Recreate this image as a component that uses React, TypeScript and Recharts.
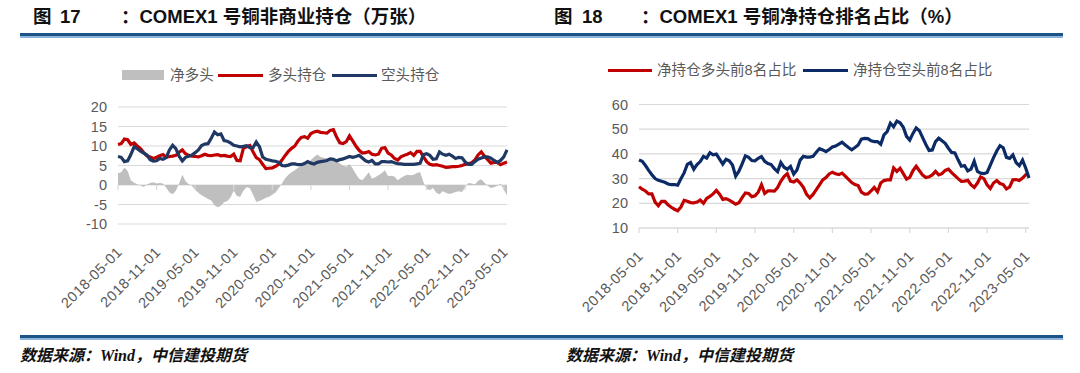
import React from 'react';
import { ComposedChart, Line, Area, XAxis, YAxis, CartesianGrid, ReferenceLine } from 'recharts';

// Semi-monthly sampling index (months since 2018-05-01)
const monthIdx: number[] = Array.from({ length: 122 }, (_, i) => i / 2);

const xTicks = [0, 6, 12, 18, 24, 30, 36, 42, 48, 54, 60];
const xTickLabels = [
  '2018-05-01', '2018-11-01', '2019-05-01', '2019-11-01', '2020-05-01', '2020-11-01',
  '2021-05-01', '2021-11-01', '2022-05-01', '2022-11-01', '2023-05-01',
];

const leftYTicks = [-10, -5, 0, 5, 10, 15, 20];
const rightYTicks = [10, 20, 30, 40, 50, 60];

// Fig 17: COMEX copper non-commercial positions (10k contracts)
const longPos = [
  10.4, 10.6, 11.8, 11.6, 10.4, 10.8, 10.0, 9.3, 8.3, 7.5,
  7.2, 6.8, 7.1, 7.5, 7.8, 7.1, 7.3, 7.4, 7.6, 8.4,
  9.0, 8.0, 7.6, 7.4, 7.3, 7.2, 7.5, 7.9, 7.6, 7.5,
  7.7, 7.8, 7.5, 7.6, 7.4, 7.3, 7.9, 6.3, 6.2, 9.4,
  9.8, 10.1, 8.5, 7.0, 6.5, 5.3, 4.2, 4.3, 4.4, 4.8,
  5.3, 6.4, 7.6, 8.6, 9.4, 10.0, 11.3, 12.2, 12.4, 12.0,
  13.2, 13.6, 13.8, 13.5, 13.4, 13.3, 14.0, 14.2, 12.3, 10.8,
  10.6, 11.1, 12.6, 11.3, 10.0, 8.9, 8.2, 8.3, 8.6, 7.9,
  7.7, 7.9, 9.4, 9.6, 8.2, 7.7, 6.8, 6.4, 7.2, 7.6,
  7.9, 8.3, 7.6, 8.6, 8.6, 7.3, 6.0, 5.3, 5.1, 5.2,
  5.0, 4.8, 4.5, 4.6, 4.7, 4.7, 4.8, 5.0, 5.3, 5.5,
  5.7, 6.4, 7.7, 8.5, 7.4, 6.5, 5.6, 5.8, 5.8, 5.2,
  5.6, 5.9,
];
const shortPos = [
  7.3, 7.1, 6.0, 6.2, 7.8, 9.8, 9.3, 8.7, 8.2, 7.7,
  6.5, 6.1, 6.2, 6.8, 6.6, 7.0, 9.0, 10.2, 9.3, 7.4,
  6.2, 7.1, 7.4, 7.7, 8.3, 9.0, 10.1, 10.5, 10.6, 12.0,
  13.6, 12.9, 13.1, 11.4, 11.2, 10.8, 10.2, 10.0, 9.8, 9.9,
  10.1, 9.6, 9.6, 11.0, 9.8, 7.2, 6.6, 6.4, 6.2, 6.1,
  5.8, 5.0, 4.9, 5.1, 5.4, 5.4, 5.2, 5.2, 5.5, 6.0,
  5.6, 5.4, 5.8, 6.0, 6.1, 6.3, 6.7, 6.6, 6.2, 6.5,
  6.7, 7.0, 7.3, 7.1, 7.3, 7.6, 6.9, 6.2, 5.9, 6.3,
  5.4, 5.4, 6.0, 6.0, 5.9, 6.0, 5.7, 5.5, 5.4, 5.3,
  5.3, 5.3, 5.3, 5.4, 5.6, 7.8, 8.0, 7.6, 6.6, 6.7,
  8.5, 7.9, 7.6, 7.9, 7.4, 6.8, 7.1, 7.0, 5.9, 5.3,
  5.3, 6.0, 6.6, 6.9, 7.2, 7.2, 6.9, 6.3, 5.8, 6.3,
  7.2, 9.0,
];
const netLong = [
  3.0, 3.3, 4.5, 3.6, 1.2, 0.6, 0.2, -0.1, -0.5, 0.1,
  0.5, 0.7, 0.4, 0.5, 0.4, -0.7, -1.9, -2.4, -1.5, 0.4,
  2.6, 1.0, 0.2, -0.2, -1.3, -2.0, -2.6, -3.1, -3.6, -4.0,
  -5.2, -5.7, -5.3, -4.4, -4.1, -3.2, -1.5, -2.8, -3.0, -1.5,
  -0.6, -0.8, -2.5, -4.3, -4.1, -3.7, -3.3, -3.0, -2.5, -1.9,
  -0.8, 0.4, 1.7, 2.6, 3.3, 3.8, 4.4, 4.9, 5.2, 5.7,
  6.4, 7.2, 7.8, 7.2, 7.0, 6.8, 6.9, 7.0, 6.2, 5.5,
  5.0, 4.7, 5.4, 4.2, 2.8, 1.6, 1.2, 2.2, 3.3, 1.6,
  2.0, 2.5, 3.0, 3.8, 2.3, 2.4, 2.2, 1.2, 1.8, 2.3,
  2.6, 2.5, 2.6, 3.1, 3.3, 0.8, -1.0, -1.3, -0.8, -2.0,
  -2.4, -1.6, -2.0, -2.3, -2.1, -1.8, -1.6, -1.8, -0.6, 0.5,
  0.4, 0.1, 1.1, 1.5, 0.6, -0.2, -0.8, -0.6, -0.2, 0.4,
  -1.2, -2.6,
];

// Fig 18: share of top-8 traders in net positions (%)
const top8Long = [
  26.7, 25.7, 25.0, 23.8, 23.8, 20.5, 19.0, 20.8, 20.8, 19.4,
  18.4, 17.6, 17.0, 18.5, 21.2, 20.8, 20.3, 20.2, 20.5, 21.3,
  20.0, 22.0, 22.8, 23.8, 25.2, 23.7, 21.6, 21.9, 21.3, 20.5,
  19.6, 20.2, 22.3, 24.2, 24.0, 22.7, 23.0, 24.5, 27.5, 24.0,
  25.0, 25.0, 24.9, 26.4, 28.9, 30.8, 32.0, 29.0, 28.6, 29.5,
  28.2, 26.5, 23.6, 22.2, 23.6, 25.5, 27.5, 29.5, 30.4, 31.9,
  32.6, 32.0, 31.6, 32.2, 31.0, 29.7, 28.4, 27.6, 27.2, 24.5,
  23.7, 23.8, 25.0, 26.4, 24.7, 28.2, 29.2, 29.5, 29.5, 34.3,
  32.9, 34.2, 32.0, 29.8, 30.5, 33.2, 35.0, 33.2, 31.4, 30.4,
  30.7, 31.5, 32.9, 31.5, 32.0, 33.3, 33.8, 32.4, 31.2, 30.0,
  28.9, 29.0, 29.3, 27.5, 26.4, 28.2, 30.7, 30.0, 27.5, 26.0,
  28.2, 29.2, 28.0, 27.6, 25.8, 26.6, 29.5, 29.6, 29.2, 30.2,
  31.6, 31.8,
];
const top8Short = [
  37.5, 37.0, 35.3, 33.3, 31.6, 30.0, 29.3, 28.9, 28.5, 27.8,
  27.6, 27.6, 27.3, 29.9, 32.3, 35.8, 36.5, 33.8, 35.7, 36.9,
  39.0, 38.3, 40.5, 39.6, 39.9, 37.9, 35.9, 37.8, 37.2, 35.5,
  31.0, 33.0, 36.0, 39.2, 38.6, 37.3, 37.2, 38.2, 38.9, 37.0,
  36.1, 35.7, 34.0, 32.8, 36.5, 34.6, 33.8, 34.9, 31.8, 33.5,
  37.5, 39.0, 38.7, 38.7, 39.0, 40.7, 42.1, 41.6, 40.9, 41.8,
  42.8, 43.2, 44.0, 44.7, 43.6, 42.6, 41.7, 42.6, 43.6, 46.0,
  46.3, 46.2, 45.3, 45.0, 45.0, 43.9, 47.7, 49.0, 52.4, 51.0,
  53.3, 52.6, 50.8, 47.1, 45.6, 48.3, 50.5, 49.4, 46.6, 43.8,
  41.4, 41.6, 45.0, 46.4, 45.3, 44.3, 42.3, 40.6, 40.4, 37.6,
  35.0, 35.3, 33.1, 33.8, 37.0, 32.9, 32.2, 32.0, 32.5, 35.5,
  38.5, 41.2, 43.3, 42.5, 38.6, 38.2, 39.6, 36.5, 35.2, 37.5,
  34.2, 30.2,
];

const leftData = monthIdx.map((m, i) => ({ m, net: netLong[i], long: longPos[i], short: shortPos[i] }));
const rightData = monthIdx.map((m, i) => ({ m, long8: top8Long[i], short8: top8Short[i] }));

const GREY_TXT = '#595959';
const GRID = '#d9d9d9';
const LATIN = '"Liberation Sans", Arial, "Noto Sans CJK SC", sans-serif';
const LINE_W = 3.2;

const RotTick = (props: any) => {
  const { x, y, payload, dx0, dy0 } = props;
  const idx = xTicks.indexOf(payload.value);
  const label = idx >= 0 ? xTickLabels[idx] : '';
  const ax = x + dx0;
  const ay = y + dy0;
  return (
    <text
      x={ax}
      y={ay}
      textAnchor="end"
      transform={`rotate(-45, ${ax}, ${ay})`}
      fill={GREY_TXT}
      fontSize={14.5}
      letterSpacing={0.5}
      fontFamily={LATIN}
    >
      {label}
    </text>
  );
};

const abs = (left: number, top: number, extra: React.CSSProperties = {}): React.CSSProperties => ({
  position: 'absolute',
  left,
  top,
  ...extra,
});

const titleStyle: React.CSSProperties = {
  fontFamily: LATIN,
  fontWeight: 'bold',
  fontSize: 18.5,
  lineHeight: '24px',
  color: '#111',
  whiteSpace: 'nowrap',
};

const legendText: React.CSSProperties = {
  fontFamily: LATIN,
  fontSize: 14.6,
  lineHeight: '18px',
  color: GREY_TXT,
  whiteSpace: 'nowrap',
};

const footStyle: React.CSSProperties = {
  fontFamily: '"Liberation Serif", "Noto Sans CJK SC", serif',
  fontWeight: 'bold',
  fontStyle: 'italic',
  fontSize: 16,
  lineHeight: '20px',
  color: '#111',
  whiteSpace: 'nowrap',
};

const Rule = ({ top }: { top: number }) => (
  <>
    <div style={abs(20, top, { width: 1043, height: 3, background: '#1d5487' })} />
    <div style={abs(20, top + 3, { width: 1043, height: 1.5, background: '#8fb4dc' })} />
  </>
);

export default function App() {
  return (
    <div style={{ position: 'absolute', left: 0, top: 0, width: 1080, height: 373, background: '#fff', overflow: 'hidden' }}>
      {/* titles */}
      <div style={abs(33, 5, titleStyle)}>图</div>
      <div style={abs(60, 5, titleStyle)}>17</div>
      <div style={abs(121, 5, titleStyle)}>：COMEX1 号铜非商业持仓（万张）</div>
      <div style={abs(554, 5, titleStyle)}>图</div>
      <div style={abs(582, 5, titleStyle)}>18</div>
      <div style={abs(641, 5, titleStyle)}>：COMEX1 号铜净持仓排名占比（%）</div>
      <Rule top={33} />

      {/* left legend */}
      <div style={abs(122, 70, { width: 42, height: 10, background: '#bfbfbf' })} />
      <div style={abs(170, 66, legendText)}>净多头</div>
      <div style={abs(218, 73.5, { width: 45, height: 3, background: '#C00000' })} />
      <div style={abs(268, 66, legendText)}>多头持仓</div>
      <div style={abs(332, 73.5, { width: 45, height: 3, background: '#1F3864' })} />
      <div style={abs(381, 66, legendText)}>空头持仓</div>

      {/* right legend */}
      <div style={abs(608, 68.5, { width: 44, height: 3, background: '#C00000' })} />
      <div style={abs(657, 61, legendText)}>净持仓多头前8名占比</div>
      <div style={abs(803, 68.5, { width: 45, height: 3, background: '#0B2A66' })} />
      <div style={abs(853, 61, legendText)}>净持仓空头前8名占比</div>

      {/* left chart */}
      <div style={abs(0, 0)}>
        <ComposedChart width={540} height={373} data={leftData} margin={{ top: 107, right: 33, bottom: 89, left: 0 }}>
          <CartesianGrid horizontal vertical={false} stroke={GRID} strokeWidth={1.2} />
          <XAxis
            type="number"
            dataKey="m"
            domain={[0, 60.5]}
            ticks={xTicks}
            interval={0}
            axisLine={false}
            tickLine={false}
            height={60}
            tick={(p: any) => <RotTick {...p} dx0={5} dy0={21} />}
          />
          <YAxis
            type="number"
            domain={[-10, 20]}
            ticks={leftYTicks}
            interval={0}
            width={118}
            axisLine={false}
            tickLine={false}
            tickMargin={5}
            tick={{ fontSize: 14.5, fill: GREY_TXT, fontFamily: LATIN }}
          />
          <Area
            type="linear"
            dataKey="net"
            baseValue={0}
            stroke="none"
            fill="#bfbfbf"
            fillOpacity={1}
            isAnimationActive={false}
          />
          {xTicks.map((t) => (
            <ReferenceLine key={t} segment={[{ x: t, y: 0 }, { x: t, y: -1.3 }]} stroke={GRID} strokeWidth={1.2} />
          ))}
          <Line type="linear" dataKey="long" stroke="#C00000" strokeWidth={LINE_W} dot={false} isAnimationActive={false} />
          <Line type="linear" dataKey="short" stroke="#1F3864" strokeWidth={LINE_W} dot={false} isAnimationActive={false} />
        </ComposedChart>
      </div>

      {/* right chart */}
      <div style={abs(540, 0)}>
        <ComposedChart width={540} height={373} data={rightData} margin={{ top: 104.5, right: 51, bottom: 85, left: 0 }}>
          <CartesianGrid horizontal vertical={false} stroke={GRID} strokeWidth={1.2} />
          <XAxis
            type="number"
            dataKey="m"
            domain={[0, 60.5]}
            ticks={xTicks}
            interval={0}
            axisLine={{ stroke: GRID, strokeWidth: 1.2 }}
            tickLine={{ stroke: GRID, strokeWidth: 1.2 }}
            tickSize={5}
            height={60}
            tick={(p: any) => <RotTick {...p} dx0={5} dy0={22} />}
          />
          <YAxis
            type="number"
            domain={[10, 60]}
            ticks={rightYTicks}
            interval={0}
            width={99}
            axisLine={false}
            tickLine={false}
            tickMargin={5}
            tick={{ fontSize: 14.5, fill: GREY_TXT, fontFamily: LATIN }}
          />
          <Line type="linear" dataKey="long8" stroke="#C00000" strokeWidth={LINE_W} dot={false} isAnimationActive={false} />
          <Line type="linear" dataKey="short8" stroke="#0B2A66" strokeWidth={LINE_W} dot={false} isAnimationActive={false} />
        </ComposedChart>
      </div>

      <Rule top={335} />
      <div style={abs(20, 346, footStyle)}>数据来源：Wind，中信建投期货</div>
      <div style={abs(566, 346, footStyle)}>数据来源：Wind，中信建投期货</div>
    </div>
  );
}
